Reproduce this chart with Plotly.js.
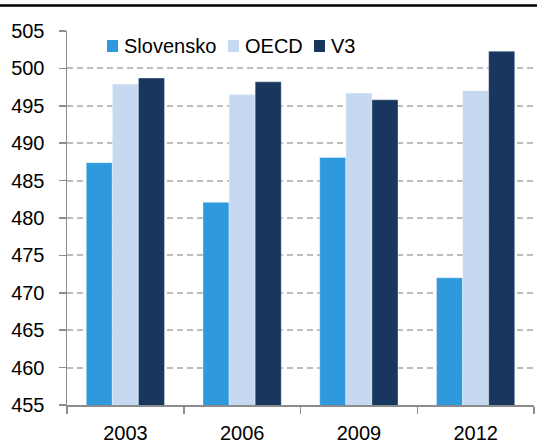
<!DOCTYPE html>
<html>
<head>
<meta charset="utf-8">
<script src="https://cdn.plot.ly/plotly-3.0.1.min.js"></script>
<style>
  body { margin: 0; padding: 0; background: #fff; }
  #chart { width: 537px; height: 443px; }
</style>
</head>
<body>
<div id="chart"></div>
<script>
// survey years and scores
var years = ['2003', '2006', '2009', '2012'];
var names = ['Slovensko', 'OECD', 'V3'];
var colors = ['#2e9add', '#c6d9f1', '#17375e'];
var slovensko = [487.4, 482.1, 488.1, 472.0];
var oecd = [497.9, 496.5, 496.7, 497.0];
var v3 = [498.7, 498.2, 495.8, 502.3];
var series = [slovensko, oecd, v3];

var fontFam = '"Liberation Sans", Arial, sans-serif';

// plot area in pixels (used for the hand-placed legend and top rule)
var L = 67, R = 3, T = 31, B = 38, W = 537, H = 443;
var pw = W - L - R, ph = H - T - B;
function px(x) { return (x - L) / pw; }
function py(y) { return (H - B - y) / ph; }

var data = series.map(function (s, i) {
  return {
    x: years,
    y: s,
    name: names[i],
    type: 'bar',
    marker: {color: colors[i], line: {color: 'rgba(255,255,255,0.35)', width: 1}}
  };
});

// legend: squares and labels laid out like the original
var legendX = [107, 228, 314];
var shapes = [{
  type: 'line',
  xref: 'paper', yref: 'paper',
  x0: px(0), x1: px(W),
  y0: py(5.5), y1: py(5.5),
  line: {color: '#000', width: 2.5}
}];
var annotations = [];
names.forEach(function (n, i) {
  shapes.push({
    type: 'rect', xref: 'paper', yref: 'paper',
    x0: px(legendX[i]), x1: px(legendX[i] + 11),
    y0: py(52), y1: py(40),
    fillcolor: colors[i], line: {width: 0}
  });
  annotations.push({
    xref: 'paper', yref: 'paper',
    x: px(legendX[i] + 15), y: py(46),
    xanchor: 'left', yanchor: 'middle',
    text: n, showarrow: false,
    font: {family: fontFam, size: 20, color: '#000'}
  });
});

var layout = {
  width: W,
  height: H,
  margin: {l: L, r: R, t: T, b: B},
  paper_bgcolor: '#fff',
  plot_bgcolor: '#fff',
  font: {family: fontFam, size: 20, color: '#000'},
  barmode: 'group',
  bargap: 0.33,
  bargroupgap: 0,
  showlegend: false,
  xaxis: {
    type: 'category',
    showline: true,
    linecolor: '#8c8c8c',
    linewidth: 1.5,
    ticks: 'outside',
    tickson: 'boundaries',
    ticklen: 7,
    tickcolor: '#8c8c8c',
    tickwidth: 1.5,
    ticklabelstandoff: 9,
    showgrid: false,
    tickfont: {family: fontFam, size: 20, color: '#000'}
  },
  yaxis: {
    range: [455, 505],
    dtick: 5,
    tick0: 455,
    showline: true,
    linecolor: '#8c8c8c',
    linewidth: 1.5,
    ticks: 'outside',
    ticklen: 7,
    tickcolor: '#8c8c8c',
    tickwidth: 1.5,
    ticklabelstandoff: 10,
    showgrid: true,
    gridcolor: '#bdbdbd',
    gridwidth: 2,
    griddash: '6px,4px',
    zeroline: false,
    tickfont: {family: fontFam, size: 20, color: '#000'}
  },
  shapes: shapes,
  annotations: annotations
};

Plotly.newPlot('chart', data, layout, {staticPlot: true});
</script>
</body>
</html>
